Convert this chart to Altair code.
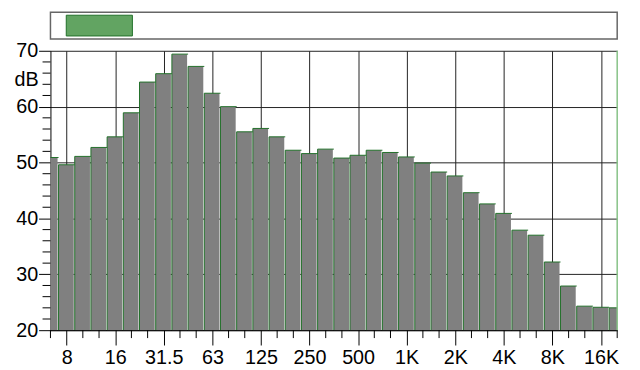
import altair as alt
import pandas as pd

# 1/3-octave band centre labels
bands = ["6.3", "8", "10", "12.5", "16", "20", "25", "31.5", "40", "50", "63", "80",
         "100", "125", "160", "200", "250", "315", "400", "500", "630", "800", "1K",
         "1.25K", "1.6K", "2K", "2.5K", "3.15K", "4K", "5K", "6.3K", "8K", "10K",
         "12.5K", "16K", "20K"]
# band levels in dB
levels = [50.9, 49.6, 51.1, 52.7, 54.6, 58.9, 64.4, 65.9, 69.4, 67.2, 62.4, 60.0,
          55.5, 56.1, 54.6, 52.2, 51.6, 52.4, 50.8, 51.3, 52.2, 51.8, 51.0,
          49.9, 48.3, 47.6, 44.6, 42.6, 40.9, 37.9, 37.0, 32.2, 27.9,
          24.3, 24.1, 24.0]
octave_labels = ["8", "16", "31.5", "63", "125", "250", "500", "1K", "2K", "4K", "8K", "16K"]
y_major = [20, 30, 40, 50, 60, 70]
y_minor = [22, 24, 26, 28, 32, 34, 36, 38, 42, 44, 46, 48, 52, 54, 56, 58, 62, 64, 66, 68]

df = pd.DataFrame({"band": bands, "level": levels, "i": list(range(len(bands)))})
octave_idx = [bands.index(l) for l in octave_labels]
minor_x = [i for i in range(len(bands)) if i not in octave_idx]

W, H = 574, 283
FONT = "Liberation Sans"
GREEN = "#22702a"

xscale = alt.Scale(domain=[0, len(bands) - 1], nice=False, zero=False)
yscale = alt.Scale(domain=[20, 70], nice=False, zero=False)
label_expr = "[" + ",".join(f"'{b}'" for b in bands) + "][datum.value]"

xaxis = alt.Axis(values=octave_idx, labelExpr=label_expr, tickSize=15, grid=True,
                 labelPadding=3, labelFlush=False, labelOverlap=False, title=None)
yaxis = alt.Axis(values=y_major, tickSize=12, grid=True, labelPadding=1, title=None)

base = alt.Chart(df).transform_calculate(lo="datum.i - 0.5", hi="datum.i + 0.5")

bars = base.mark_bar(fill="#808080", strokeWidth=0, clip=True, x2Offset=-1).encode(
    x=alt.X("lo:Q", scale=xscale, axis=xaxis),
    x2="hi:Q",
    y=alt.Y("level:Q", scale=yscale, axis=yaxis),
    y2=alt.datum(20),
)

left_edges = base.mark_rule(color=GREEN, strokeWidth=1, clip=True).encode(
    x=alt.X("lo:Q", scale=xscale, axis=xaxis),
    y=alt.Y("level:Q", scale=yscale, axis=yaxis),
    y2=alt.datum(20),
)
top_edges = base.mark_rule(color=GREEN, strokeWidth=1, clip=True).encode(
    x=alt.X("lo:Q", scale=xscale, axis=xaxis),
    x2="hi:Q",
    y=alt.Y("level:Q", scale=yscale, axis=yaxis),
)

xminor = alt.Chart(pd.DataFrame({"t": minor_x})).mark_rule(color="black").encode(
    x=alt.X("t:Q", scale=xscale, axis=xaxis),
    y=alt.value(H), y2=alt.value(H + 8),
)
yminor = alt.Chart(pd.DataFrame({"t": y_minor})).mark_rule(color="black").encode(
    y=alt.Y("t:Q", scale=yscale, axis=yaxis),
    x=alt.value(-8), x2=alt.value(0),
)
right_border = alt.Chart(pd.DataFrame({"t": [len(bands) - 1]})).mark_rule(
    color="#86c286", strokeWidth=1.5).encode(
    x=alt.X("t:Q", scale=xscale, axis=xaxis),
    y=alt.value(0), y2=alt.value(H),
)

one = pd.DataFrame({"a": [0]})
db_text = alt.Chart(one).mark_text(text="dB", align="right", baseline="middle",
                                   font=FONT, fontSize=20, color="black").encode(
    x=alt.value(-12), y=alt.value(30),
)
legend_box = alt.Chart(one).mark_rect(fill="white", stroke="#666666", strokeWidth=1.5).encode(
    x=alt.value(0), x2=alt.value(W), y=alt.value(-39), y2=alt.value(-12),
)
legend_swatch = alt.Chart(one).mark_rect(fill="#62a462", stroke=GREEN, strokeWidth=1).encode(
    x=alt.value(16), x2=alt.value(83), y=alt.value(-36), y2=alt.value(-15),
)

chart = alt.layer(
    bars, left_edges, top_edges, xminor, yminor, right_border,
    db_text, legend_box, legend_swatch
).properties(
    width=W, height=H,
    autosize=alt.AutoSizeParams(type="none"),
    padding={"left": 43, "top": 41, "right": 15, "bottom": 38},
).configure_view(stroke=None).configure_axis(
    labelFont=FONT, labelFontSize=20, labelColor="black",
    domainColor="black", tickColor="black", domainWidth=1, tickWidth=1,
    gridColor="#222222", gridWidth=1, gridOpacity=1,
)

chart.save("out.html", embed_options={"renderer": "svg", "actions": False})
